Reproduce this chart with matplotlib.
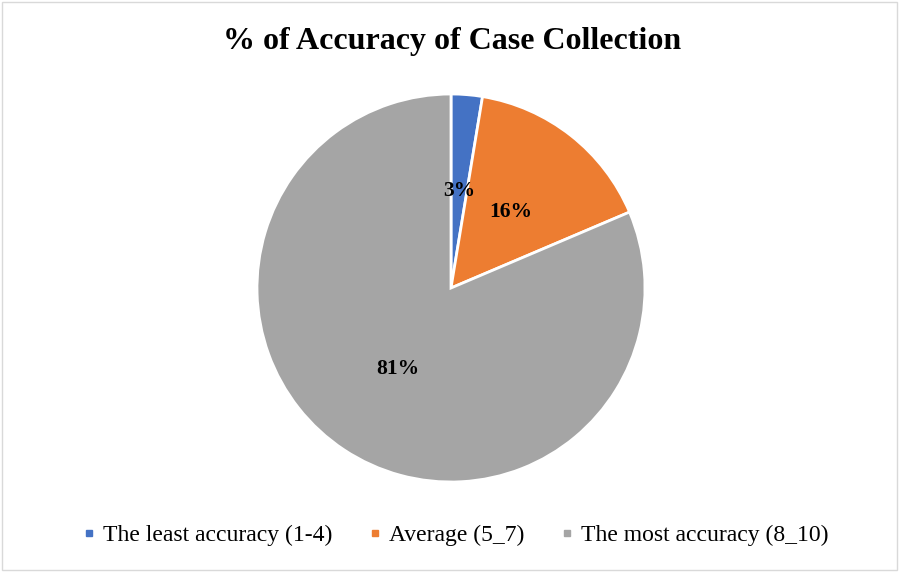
import matplotlib.pyplot as plt
from matplotlib.patches import Rectangle
from matplotlib.lines import Line2D
import numpy as np

categorias = ['The least accuracy (1-4)', 'Average (5_7)', 'The most accuracy (8_10)']
valores = [2.6, 16.0, 81.4]
rotulos = ['3%', '16%', '81%']
cores = ['#4472C4', '#ED7D31', '#A5A5A5']

plt.rcParams['font.family'] = ['Liberation Serif', 'DejaVu Serif']

fig = plt.figure(figsize=(9, 5.72), dpi=100)

# pizza: centro ~ (451, 288) px, raio ~194 px
cx, cy, r = 451, 288, 194
ax = fig.add_axes([(cx - r) / 900, (572 - cy - r) / 572, 2 * r / 900, 2 * r / 572])
fatias, _ = ax.pie(valores, colors=cores, startangle=90, counterclock=False,
                   radius=1, wedgeprops={'edgecolor': 'white', 'linewidth': 2})
ax.set_xlim(-1, 1)
ax.set_ylim(-1, 1)
ax.set_aspect('equal')

# rotulos no meio de cada fatia
for fatia, rot in zip(fatias, rotulos):
    meio = np.deg2rad((fatia.theta1 + fatia.theta2) / 2)
    ax.text(0.5 * np.cos(meio), 0.5 * np.sin(meio), rot, ha='center', va='center',
            fontsize=15.5, fontweight='bold', color='black')

fig.text(452 / 900, 1 - 42 / 572, '% of Accuracy of Case Collection', ha='center', va='center',
         fontsize=23, fontweight='bold')

handles = [Line2D([], [], marker='s', linestyle='', markersize=5, color=c) for c in cores]
fig.legend(handles, categorias, loc='center', bbox_to_anchor=(455 / 900, 1 - 535 / 572),
           ncol=3, frameon=False, fontsize=17, handletextpad=0.3, columnspacing=1.5,
           handlelength=0.6)

# borda do grafico
fig.patches.append(Rectangle((0.002, 0.003), 0.995, 0.994, transform=fig.transFigure,
                             fill=False, edgecolor='#D9D9D9', linewidth=1))

fig.savefig('out.png', dpi=100)
